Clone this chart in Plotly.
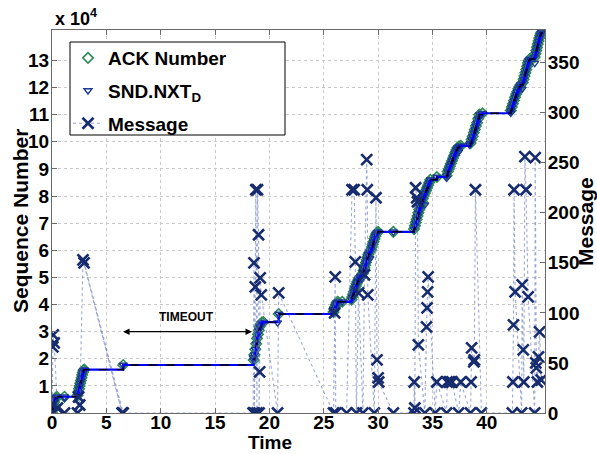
import plotly.graph_objects as go

# ---------------- data ----------------
# ACK Number (sequence number) vs time
ack_time = [
    0.00, 0.05, 0.10, 0.15, 0.20, 0.27, 0.35, 0.45, 1.15,
    2.35, 2.42, 2.48, 2.54, 2.60, 2.66, 2.72, 2.78, 2.84, 2.90, 2.97,
    6.55,
    18.55, 18.62, 18.70, 18.78, 18.86, 18.94, 19.02, 19.10, 19.20, 19.32, 19.45,
    20.85,
    25.90, 25.97, 26.05, 26.12, 26.20, 26.30, 26.70,
    27.55, 27.62, 27.70, 27.78, 27.86, 27.94, 28.02, 28.10, 28.20, 28.30, 28.40,
    28.60, 28.67, 28.74, 28.81, 28.88, 28.95, 29.02, 29.10, 29.20,
    29.35, 29.42, 29.50, 29.58, 29.66, 29.74, 29.82, 29.90, 30.00, 31.40,
    33.30, 33.38, 33.46, 33.54, 33.62, 33.70, 33.78, 33.86, 33.94, 34.02,
    34.10, 34.20, 34.30, 34.40, 34.50, 34.60, 34.70, 34.80, 35.40,
    36.30, 36.40, 36.50, 36.60, 36.70, 36.80, 36.90, 37.00, 37.10, 37.20, 37.30, 37.45, 37.60,
    38.50, 38.60, 38.70, 38.80, 38.90, 39.00, 39.10, 39.20, 39.30, 39.60,
    42.20, 42.30, 42.40, 42.50, 42.60, 42.70, 42.80, 42.90, 43.00, 43.10,
    43.30, 43.38, 43.46, 43.54, 43.62, 43.70, 43.78, 43.86, 43.95,
    44.40, 44.47, 44.54, 44.61, 44.68, 44.75, 44.82, 44.90, 44.97, 45.05,
]
ack_seq = [
    0, 1000, 2000, 3000, 4000, 5000, 5600, 6000, 6000,
    6500, 7700, 8900, 10000, 11000, 12000, 13000, 14000, 15000, 15800, 16000,
    17700,
    19500, 21500, 23500, 25500, 27500, 29000, 30500, 31800, 32800, 33400, 33500,
    36500,
    37200, 38200, 39200, 40000, 40700, 41000, 41000,
    41800, 42800, 43800, 44800, 45800, 46800, 47700, 48500, 49300, 50000, 50500,
    51500, 52500, 53500, 54500, 55500, 56500, 57500, 58500, 59300,
    60200, 61200, 62200, 63200, 64200, 65200, 66000, 66500, 66800, 66800,
    67800, 69000, 70200, 71400, 72600, 73800, 75000, 76000, 77000, 78000,
    79000, 80000, 81000, 82000, 83000, 84000, 85000, 86000, 87000,
    87500, 89000, 90000, 91000, 92000, 93000, 94000, 95000, 96000, 97000, 97800, 98300, 98500,
    99500, 100800, 102000, 103300, 104500, 105800, 107000, 108500, 110000, 110500,
    111500, 112800, 114000, 115200, 116400, 117500, 118500, 119500, 120300, 121000,
    121800, 123000, 124200, 125400, 126600, 127800, 129000, 130000, 130500,
    131200, 132400, 133600, 134800, 136000, 137100, 138200, 139200, 140000, 140500,
]

# SND.NXT_D: follows the ACK number, plus the step-start points
snd_extra_time = [1.15, 2.45, 18.50, 20.75, 25.90, 28.50, 29.25, 34.30, 36.30, 37.40, 38.40, 42.20, 43.25, 44.40]
snd_extra_seq = [5500, 7400, 20500, 33300, 37000, 49500, 57000, 76800, 86700, 96300, 98900, 110700, 119500, 129000]

# Message (right axis)
msg_time = [
    0.00, 0.03, 0.08, 0.12, 0.20, 0.50, 1.15,
    2.35, 2.45, 2.55, 2.85, 6.45, 2.95, 6.55,
    18.50, 18.58, 18.62, 18.70, 18.75, 18.85, 18.90, 19.00, 19.05, 19.10, 19.15, 19.25, 20.75, 20.85,
    25.90, 26.00, 26.05, 26.10, 27.10, 27.60, 27.80, 27.90, 28.00, 28.20, 28.60, 28.75, 28.95,
    29.00, 29.05, 29.65, 29.80, 29.90, 30.00, 30.05, 31.40,
    33.30, 33.32, 33.38, 33.45, 33.55, 33.62, 33.70, 34.30, 34.45, 34.50, 34.55, 34.60, 35.25, 35.40,
    36.30, 36.35, 36.55, 36.65, 36.80, 37.40, 37.60, 38.50, 38.55, 38.60, 38.80, 38.85, 38.95, 39.50,
    42.35, 42.40, 42.45, 42.50, 42.60, 43.20, 43.25, 43.35, 43.40, 43.50, 43.60, 43.80,
    44.40, 44.45, 44.50, 44.55, 44.65, 44.75, 44.85, 45.00,
]
msg_value = [
    0, 8, 66, 78, 70, 5, 0,
    0, 16, 8, 153, 0, 150, 0,
    0, 150, 0, 126, 223, 0, 223, 178, 0, 41, 135, 118, 0, 120,
    0, 100, 136, 0, 0, 223, 223, 151, 0, 120, 0, 138, 253,
    223, 118, 0, 215, 53, 35, 31, 0,
    0, 31, 5, 225, 215, 211, 68, 0, 86, 105, 121, 136, 0, 31,
    0, 31, 31, 31, 31, 0, 31, 0, 31, 65, 51, 53, 223, 0,
    0, 31, 88, 223, 121, 0, 128, 63, 31, 256, 223, 116,
    0, 255, 50, 45, 31, 56, 81, 33,
]

x_ticks = [0, 5, 10, 15, 20, 25, 30, 35, 40]
seq_tick_vals = [10000 * k for k in range(1, 14)]
seq_tick_text = [str(k) for k in range(1, 14)]
msg_ticks = [0, 50, 100, 150, 200, 250, 300, 350]

assert len(ack_time) == len(ack_seq)
assert len(msg_time) == len(msg_value)

# ---------------- styling ----------------
FONT = "Liberation Sans, Arial, Helvetica, sans-serif"
GREEN = "#2e8b57"
TRI_BLUE = "#1f3a93"
NAVY = "#172c6e"
AXC = "#6a6a6a"
GRID = "#c9c9c9"

fig = go.Figure()

fig.add_trace(go.Scatter(
    x=ack_time, y=ack_seq, mode="markers", name="ACK Number",
    legendgroup="a",
    marker=dict(symbol="diamond-open", size=8, color=GREEN, line=dict(width=1.6, color=GREEN)),
))
fig.add_trace(go.Scatter(
    x=ack_time + snd_extra_time, y=ack_seq + snd_extra_seq, mode="markers",
    name="SND.NXT<sub>D</sub>", legendgroup="b",
    marker=dict(symbol="triangle-down-open", size=7, color=TRI_BLUE, line=dict(width=1.4, color=TRI_BLUE)),
))
fig.add_trace(go.Scatter(
    x=msg_time, y=msg_value, mode="lines+markers", name="Message", yaxis="y2",
    legendgroup="c",
    line=dict(color="rgba(100,120,190,0.65)", width=1.1, dash="dot"),
    marker=dict(symbol="x-thin-open", size=11, color=NAVY, line=dict(width=2.6, color=NAVY)),
))
# step line (blue solid + black dashed overlay)
fig.add_trace(go.Scatter(
    x=ack_time, y=ack_seq, mode="lines", showlegend=False, hoverinfo="skip",
    line=dict(color="#0000ff", width=2.2, shape="hv"),
))
fig.add_trace(go.Scatter(
    x=ack_time, y=ack_seq, mode="lines", showlegend=False, hoverinfo="skip",
    line=dict(color="#000000", width=1.4, dash="dash", shape="hv"),
))

# plot area in pixels: x 52..545, y 30..413
L, R, T, B = 52, 545, 30, 413
W, H = 597, 454
pw, ph = R - L, B - T


def px(xp):
    return (xp - L) / pw


def py(yp):
    return (B - yp) / ph


tickfont = dict(family=FONT, size=19, color="#000", weight="bold")
titlefont = dict(family=FONT, size=21, color="#000", weight="bold")

fig.update_layout(
    width=W, height=H,
    margin=dict(l=L, r=W - R, t=T, b=H - B),
    paper_bgcolor="white", plot_bgcolor="white",
    showlegend=True,
    legend=dict(
        x=px(68), y=py(39), xanchor="left", yanchor="top",
        bgcolor="rgba(0,0,0,0)", borderwidth=0,
        font=dict(family=FONT, size=19, color="#000", weight="bold"),
        tracegroupgap=5, traceorder="grouped", itemwidth=30,
    ),
    xaxis=dict(
        range=[0, 45.35], tickvals=x_ticks, ticks="inside", ticklen=5, tickcolor=AXC,
        showline=True, linecolor=AXC, linewidth=1, mirror="ticks",
        showgrid=True, gridcolor=GRID, griddash="dot", gridwidth=1,
        zeroline=False, tickfont=tickfont, ticklabelstandoff=-8,
    ),
    yaxis=dict(
        range=[0, 141200], tickvals=seq_tick_vals, ticktext=seq_tick_text,
        ticks="inside", ticklen=5, tickcolor=AXC,
        showline=True, linecolor=AXC, linewidth=1, mirror=True,
        showgrid=True, gridcolor=GRID, griddash="dot", gridwidth=1,
        zeroline=False, tickfont=tickfont, ticklabelstandoff=-2,
    ),
    yaxis2=dict(
        overlaying="y", side="right", range=[0, 382.5], tickvals=msg_ticks,
        ticks="inside", ticklen=5, tickcolor=AXC,
        showline=True, linecolor=AXC, showgrid=False, zeroline=False, tickfont=tickfont,
        ticklabelstandoff=-2,
    ),
    shapes=[
        dict(type="rect", xref="paper", yref="paper",
             x0=px(70), x1=px(285), y0=py(135), y1=py(42),
             fillcolor="white", line=dict(color="#000", width=1), layer="above"),
    ],
    annotations=[
        dict(text="x 10<sup>4</sup>", xref="paper", yref="paper", x=px(53), y=py(31),
             xanchor="left", yanchor="bottom", showarrow=False,
             font=dict(family=FONT, size=18, color="#000", weight="bold")),
        dict(text="Sequence Number", xref="paper", yref="paper", x=px(20), y=py(221),
             xanchor="center", yanchor="middle", textangle=-90, showarrow=False,
             font=titlefont),
        dict(text="Message", xref="paper", yref="paper", x=px(585), y=py(222),
             xanchor="center", yanchor="middle", textangle=-90, showarrow=False,
             font=titlefont),
        dict(text="Time", xref="paper", yref="paper", x=px(270), y=py(442),
             xanchor="center", yanchor="middle", showarrow=False,
             font=dict(family=FONT, size=19, color="#000", weight="bold")),
        dict(text="TIMEOUT", x=12.4, y=35400, xref="x", yref="y", showarrow=False,
             font=dict(family=FONT, size=12, color="#000", weight="bold")),
        dict(text="", x=18.4, y=30000, ax=6.4, ay=30000, xref="x", yref="y",
             axref="x", ayref="y", showarrow=True, arrowhead=2, startarrowhead=2,
             arrowside="end+start", arrowsize=1, arrowwidth=1.3, arrowcolor="#000"),
    ],
)

fig.write_html("out.html")
